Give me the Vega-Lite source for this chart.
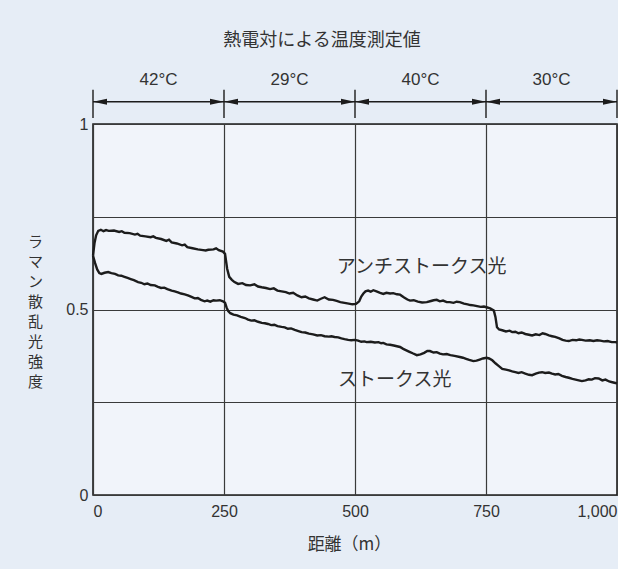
{
  "$schema": "https://vega.github.io/schema/vega-lite/v6.json",
  "width": 524,
  "height": 371,
  "autosize": {"type": "none"},
  "padding": {"left": 93, "top": 124, "right": 1, "bottom": 74},
  "background": "#e6edf6",
  "config": {
    "view": {"fill": "#f1f4fa", "stroke": "#1e1e1e", "strokeWidth": 1.6},
    "axis": {"gridColor": "#3a3a3a", "gridWidth": 1.2, "gridOpacity": 1, "ticks": false, "domain": false, "labelColor": "#333", "titleColor": "#333", "labelFont": "Liberation Sans Narrow, Liberation Sans, sans-serif", "labelFontSize": 16, "titleFont": "Noto Sans CJK JP", "titleFontWeight": "normal", "titleFontSize": 17}
  },
  "datasets": {
    "anti": [
      {"d":0,"v":0.645},{"d":3,"v":0.680},{"d":6,"v":0.700},{"d":10,"v":0.712},{"d":15,"v":0.715},{"d":20,"v":0.711},{"d":25,"v":0.714},{"d":30,"v":0.712},{"d":40,"v":0.713},{"d":50,"v":0.709},{"d":55,"v":0.711},{"d":60,"v":0.707},{"d":70,"v":0.706},{"d":80,"v":0.702},{"d":85,"v":0.704},{"d":90,"v":0.699},{"d":100,"v":0.697},{"d":110,"v":0.695},{"d":115,"v":0.697},{"d":120,"v":0.693},{"d":130,"v":0.690},{"d":140,"v":0.685},{"d":145,"v":0.688},{"d":150,"v":0.681},{"d":160,"v":0.678},{"d":170,"v":0.673},{"d":175,"v":0.675},{"d":180,"v":0.668},{"d":190,"v":0.665},{"d":200,"v":0.662},{"d":210,"v":0.660},{"d":215,"v":0.659},{"d":220,"v":0.661},{"d":230,"v":0.662},{"d":235,"v":0.665},{"d":240,"v":0.660},{"d":248,"v":0.656},{"d":252,"v":0.650},{"d":256,"v":0.610},{"d":260,"v":0.588},{"d":265,"v":0.580},{"d":270,"v":0.574},{"d":277,"v":0.569},{"d":285,"v":0.571},{"d":292,"v":0.566},{"d":300,"v":0.565},{"d":308,"v":0.568},{"d":315,"v":0.562},{"d":322,"v":0.560},{"d":330,"v":0.558},{"d":338,"v":0.555},{"d":345,"v":0.557},{"d":352,"v":0.551},{"d":360,"v":0.549},{"d":368,"v":0.547},{"d":375,"v":0.543},{"d":382,"v":0.545},{"d":390,"v":0.538},{"d":398,"v":0.533},{"d":405,"v":0.535},{"d":412,"v":0.530},{"d":420,"v":0.527},{"d":428,"v":0.524},{"d":435,"v":0.529},{"d":442,"v":0.533},{"d":450,"v":0.527},{"d":458,"v":0.526},{"d":465,"v":0.523},{"d":472,"v":0.520},{"d":480,"v":0.518},{"d":488,"v":0.516},{"d":495,"v":0.514},{"d":502,"v":0.515},{"d":508,"v":0.522},{"d":512,"v":0.535},{"d":516,"v":0.543},{"d":520,"v":0.549},{"d":525,"v":0.551},{"d":530,"v":0.548},{"d":535,"v":0.552},{"d":541,"v":0.549},{"d":548,"v":0.545},{"d":554,"v":0.542},{"d":560,"v":0.545},{"d":567,"v":0.543},{"d":573,"v":0.544},{"d":580,"v":0.541},{"d":586,"v":0.540},{"d":593,"v":0.533},{"d":600,"v":0.527},{"d":605,"v":0.524},{"d":612,"v":0.525},{"d":620,"v":0.521},{"d":628,"v":0.519},{"d":637,"v":0.520},{"d":645,"v":0.523},{"d":650,"v":0.525},{"d":656,"v":0.526},{"d":662,"v":0.522},{"d":668,"v":0.524},{"d":675,"v":0.520},{"d":681,"v":0.520},{"d":688,"v":0.518},{"d":694,"v":0.521},{"d":700,"v":0.520},{"d":708,"v":0.516},{"d":715,"v":0.514},{"d":720,"v":0.512},{"d":726,"v":0.511},{"d":733,"v":0.509},{"d":740,"v":0.507},{"d":746,"v":0.508},{"d":751,"v":0.506},{"d":758,"v":0.503},{"d":765,"v":0.497},{"d":768,"v":0.480},{"d":771,"v":0.452},{"d":775,"v":0.446},{"d":781,"v":0.444},{"d":788,"v":0.441},{"d":795,"v":0.443},{"d":800,"v":0.439},{"d":806,"v":0.440},{"d":812,"v":0.436},{"d":818,"v":0.438},{"d":825,"v":0.434},{"d":832,"v":0.432},{"d":838,"v":0.430},{"d":845,"v":0.433},{"d":852,"v":0.431},{"d":858,"v":0.436},{"d":863,"v":0.434},{"d":870,"v":0.430},{"d":876,"v":0.428},{"d":882,"v":0.426},{"d":890,"v":0.422},{"d":896,"v":0.418},{"d":902,"v":0.416},{"d":908,"v":0.415},{"d":915,"v":0.418},{"d":922,"v":0.417},{"d":928,"v":0.419},{"d":933,"v":0.418},{"d":940,"v":0.416},{"d":948,"v":0.417},{"d":955,"v":0.415},{"d":962,"v":0.417},{"d":968,"v":0.416},{"d":975,"v":0.414},{"d":982,"v":0.415},{"d":990,"v":0.412},{"d":997,"v":0.412},{"d":1000,"v":0.411}
    ],
    "stokes": [
      {"d":0,"v":0.645},{"d":4,"v":0.625},{"d":8,"v":0.608},{"d":12,"v":0.598},{"d":16,"v":0.596},{"d":22,"v":0.599},{"d":29,"v":0.601},{"d":35,"v":0.598},{"d":42,"v":0.596},{"d":48,"v":0.592},{"d":54,"v":0.591},{"d":60,"v":0.588},{"d":66,"v":0.585},{"d":72,"v":0.582},{"d":78,"v":0.579},{"d":86,"v":0.574},{"d":92,"v":0.572},{"d":98,"v":0.568},{"d":104,"v":0.570},{"d":110,"v":0.566},{"d":118,"v":0.565},{"d":124,"v":0.561},{"d":130,"v":0.558},{"d":136,"v":0.559},{"d":142,"v":0.555},{"d":150,"v":0.551},{"d":156,"v":0.549},{"d":162,"v":0.546},{"d":168,"v":0.543},{"d":175,"v":0.541},{"d":181,"v":0.538},{"d":188,"v":0.534},{"d":194,"v":0.530},{"d":200,"v":0.531},{"d":206,"v":0.526},{"d":213,"v":0.522},{"d":218,"v":0.524},{"d":224,"v":0.521},{"d":230,"v":0.525},{"d":235,"v":0.524},{"d":242,"v":0.525},{"d":248,"v":0.522},{"d":252,"v":0.518},{"d":255,"v":0.505},{"d":258,"v":0.496},{"d":262,"v":0.490},{"d":268,"v":0.486},{"d":275,"v":0.484},{"d":282,"v":0.480},{"d":290,"v":0.477},{"d":296,"v":0.473},{"d":302,"v":0.470},{"d":308,"v":0.471},{"d":315,"v":0.467},{"d":322,"v":0.464},{"d":328,"v":0.463},{"d":334,"v":0.461},{"d":340,"v":0.458},{"d":346,"v":0.459},{"d":352,"v":0.455},{"d":360,"v":0.453},{"d":366,"v":0.452},{"d":372,"v":0.448},{"d":378,"v":0.449},{"d":385,"v":0.445},{"d":392,"v":0.442},{"d":398,"v":0.439},{"d":405,"v":0.438},{"d":412,"v":0.435},{"d":420,"v":0.433},{"d":428,"v":0.430},{"d":435,"v":0.431},{"d":442,"v":0.428},{"d":450,"v":0.427},{"d":455,"v":0.428},{"d":461,"v":0.426},{"d":468,"v":0.425},{"d":474,"v":0.422},{"d":480,"v":0.420},{"d":487,"v":0.418},{"d":493,"v":0.417},{"d":500,"v":0.418},{"d":506,"v":0.416},{"d":512,"v":0.413},{"d":518,"v":0.414},{"d":522,"v":0.412},{"d":530,"v":0.413},{"d":538,"v":0.411},{"d":545,"v":0.412},{"d":550,"v":0.409},{"d":554,"v":0.410},{"d":560,"v":0.406},{"d":567,"v":0.405},{"d":574,"v":0.403},{"d":580,"v":0.401},{"d":586,"v":0.399},{"d":592,"v":0.394},{"d":598,"v":0.390},{"d":604,"v":0.386},{"d":610,"v":0.382},{"d":618,"v":0.377},{"d":625,"v":0.379},{"d":632,"v":0.383},{"d":638,"v":0.388},{"d":643,"v":0.388},{"d":650,"v":0.384},{"d":656,"v":0.385},{"d":662,"v":0.381},{"d":668,"v":0.379},{"d":675,"v":0.380},{"d":682,"v":0.377},{"d":690,"v":0.375},{"d":700,"v":0.372},{"d":706,"v":0.370},{"d":712,"v":0.367},{"d":718,"v":0.364},{"d":726,"v":0.361},{"d":732,"v":0.362},{"d":738,"v":0.365},{"d":744,"v":0.368},{"d":751,"v":0.370},{"d":756,"v":0.368},{"d":762,"v":0.363},{"d":768,"v":0.355},{"d":774,"v":0.348},{"d":781,"v":0.340},{"d":788,"v":0.338},{"d":794,"v":0.336},{"d":800,"v":0.333},{"d":806,"v":0.331},{"d":812,"v":0.329},{"d":818,"v":0.331},{"d":825,"v":0.327},{"d":832,"v":0.324},{"d":838,"v":0.323},{"d":845,"v":0.327},{"d":851,"v":0.330},{"d":857,"v":0.331},{"d":863,"v":0.329},{"d":870,"v":0.330},{"d":876,"v":0.327},{"d":882,"v":0.325},{"d":888,"v":0.326},{"d":895,"v":0.321},{"d":902,"v":0.318},{"d":908,"v":0.316},{"d":915,"v":0.313},{"d":921,"v":0.311},{"d":927,"v":0.309},{"d":933,"v":0.307},{"d":940,"v":0.309},{"d":946,"v":0.312},{"d":952,"v":0.311},{"d":958,"v":0.315},{"d":965,"v":0.314},{"d":972,"v":0.309},{"d":978,"v":0.311},{"d":985,"v":0.306},{"d":991,"v":0.304},{"d":997,"v":0.302},{"d":1000,"v":0.301}
    ],
    "segments": [
      {"from":0,"to":250,"mid":125,"label":"42°C"},
      {"from":250,"to":500,"mid":375,"label":"29°C"},
      {"from":500,"to":750,"mid":625,"label":"40°C"},
      {"from":750,"to":1000,"mid":875,"label":"30°C"}
    ],
    "bounds": [{"d":0},{"d":250},{"d":500},{"d":750},{"d":1000}],
    "curveLabels": [
      {"d":627,"v":0.615,"label":"アンチストークス光"},
      {"d":576,"v":0.31,"label":"ストークス光"}
    ],
    "heading": [{"d":437,"label":"熱電対による温度測定値"}]
  },
  "layer": [
    {
      "data": {"name": "anti"},
      "mark": {"type": "line", "color": "#1c1c1c", "strokeWidth": 2.4},
      "encoding": {
        "x": {"field": "d", "type": "quantitative", "scale": {"domain": [0, 1000], "nice": false, "zero": false},
          "axis": {"title": "距離（m）", "values": [0, 250, 500, 750, 1000], "format": ",.0f", "labelFlush": true, "labelPadding": 8, "titlePadding": 17, "titleX": 256, "grid": true}},
        "y": {"field": "v", "type": "quantitative", "scale": {"domain": [0, 1], "nice": false},
          "axis": {"title": ["ラ","マ","ン","散","乱","光","強","度"], "titleAngle": 0, "titleAlign": "center", "titleBaseline": "top", "titleX": -58, "titleY": 110, "titleFontSize": 15, "titleLineHeight": 20, "values": [0, 0.25, 0.5, 0.75, 1], "format": "~g", "labelExpr": "datum.value == 0.25 || datum.value == 0.75 ? '' : datum.label", "labelPadding": 5, "grid": true}}
      }
    },
    {
      "data": {"name": "stokes"},
      "mark": {"type": "line", "color": "#1c1c1c", "strokeWidth": 2.4},
      "encoding": {
        "x": {"field": "d", "type": "quantitative"},
        "y": {"field": "v", "type": "quantitative"}
      }
    },
    {
      "data": {"name": "bounds"},
      "mark": {"type": "rule", "color": "#1c1c1c", "strokeWidth": 1.4},
      "encoding": {
        "x": {"field": "d", "type": "quantitative"},
        "y": {"datum": 1.016},
        "y2": {"datum": 1.092}
      }
    },
    {
      "data": {"name": "segments"},
      "mark": {"type": "rule", "color": "#1c1c1c", "strokeWidth": 1.3},
      "encoding": {
        "x": {"field": "from", "type": "quantitative"},
        "x2": {"field": "to"},
        "y": {"datum": 1.06}
      }
    },
    {
      "data": {"name": "segments"},
      "mark": {"type": "point", "shape": "M1,0L-1,-0.42L-1,0.42Z", "size": 196, "filled": true, "color": "#1c1c1c", "opacity": 1, "xOffset": -7},
      "encoding": {
        "x": {"field": "to", "type": "quantitative"},
        "y": {"datum": 1.06}
      }
    },
    {
      "data": {"name": "segments"},
      "mark": {"type": "point", "shape": "M-1,0L1,-0.42L1,0.42Z", "size": 196, "filled": true, "color": "#1c1c1c", "opacity": 1, "xOffset": 7},
      "encoding": {
        "x": {"field": "from", "type": "quantitative"},
        "y": {"datum": 1.06}
      }
    },
    {
      "data": {"name": "segments"},
      "mark": {"type": "text", "font": "Liberation Sans Narrow, Liberation Sans, sans-serif", "fontSize": 17, "color": "#333", "baseline": "middle", "align": "center"},
      "encoding": {
        "x": {"field": "mid", "type": "quantitative"},
        "y": {"datum": 1.119},
        "text": {"field": "label"}
      }
    },
    {
      "data": {"name": "heading"},
      "mark": {"type": "text", "font": "Noto Sans CJK JP", "fontSize": 18, "color": "#333", "baseline": "middle", "align": "center"},
      "encoding": {
        "x": {"field": "d", "type": "quantitative"},
        "y": {"datum": 1.224},
        "text": {"field": "label"}
      }
    },
    {
      "data": {"name": "curveLabels"},
      "mark": {"type": "text", "font": "Noto Sans CJK JP", "fontSize": 19, "color": "#333", "baseline": "middle", "align": "center"},
      "encoding": {
        "x": {"field": "d", "type": "quantitative"},
        "y": {"field": "v", "type": "quantitative"},
        "text": {"field": "label"}
      }
    }
  ]
}
